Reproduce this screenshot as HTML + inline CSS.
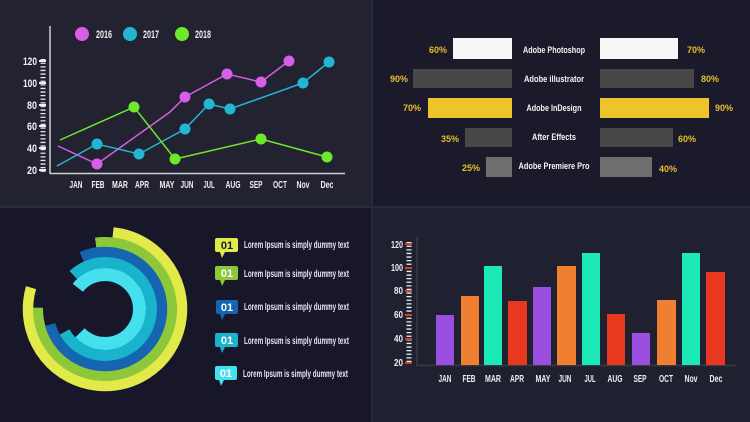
<!DOCTYPE html>
<html><head><meta charset="utf-8"><style>
html,body{margin:0;padding:0;background:#262638;}
svg{display:block;font-family:"Liberation Sans",sans-serif;}
</style></head><body>
<svg width="750" height="422" viewBox="0 0 750 422" xmlns="http://www.w3.org/2000/svg">
<rect width="750" height="422" fill="#2a2a3e"/>
<rect x="0" y="0" width="371" height="206" fill="#222231"/>
<rect x="373" y="0" width="377" height="206" fill="#1a1a2b"/>
<rect x="0" y="208" width="371" height="214" fill="#171729"/>
<rect x="373" y="208" width="377" height="214" fill="#1f2030"/>

<!-- TOP LEFT line chart -->
<g>
<line x1="50" y1="26" x2="50" y2="174" stroke="#cfcfd6" stroke-width="1.5"/>
<line x1="50" y1="173.5" x2="345" y2="173.5" stroke="#cfcfd6" stroke-width="1.5"/>
<line x1="43" y1="59" x2="43" y2="172" stroke="#e8e8ee" stroke-width="5" stroke-dasharray="1.3 2.3"/>
<g stroke="#f0f0f0" stroke-width="2">
<line x1="39" y1="61" x2="46" y2="61"/><line x1="39" y1="83" x2="46" y2="83"/><line x1="39" y1="105" x2="46" y2="105"/><line x1="39" y1="126" x2="46" y2="126"/><line x1="39" y1="148" x2="46" y2="148"/><line x1="39" y1="170" x2="46" y2="170"/>
</g>
<g fill="#f0f0f0" font-size="11" font-weight="bold" text-anchor="end">
<text x="37" y="65" textLength="14" lengthAdjust="spacingAndGlyphs">120</text><text x="37" y="87" textLength="14" lengthAdjust="spacingAndGlyphs">100</text><text x="37" y="109" textLength="10" lengthAdjust="spacingAndGlyphs">80</text><text x="37" y="130" textLength="10" lengthAdjust="spacingAndGlyphs">60</text><text x="37" y="152" textLength="10" lengthAdjust="spacingAndGlyphs">40</text><text x="37" y="174" textLength="10" lengthAdjust="spacingAndGlyphs">20</text>
</g>
<g fill="#f0f0f0" font-size="10.5" font-weight="bold" text-anchor="middle">
<text x="76" y="188" textLength="13" lengthAdjust="spacingAndGlyphs">JAN</text><text x="98" y="188" textLength="13" lengthAdjust="spacingAndGlyphs">FEB</text><text x="120" y="188" textLength="16" lengthAdjust="spacingAndGlyphs">MAR</text><text x="142" y="188" textLength="14" lengthAdjust="spacingAndGlyphs">APR</text><text x="167" y="188" textLength="15" lengthAdjust="spacingAndGlyphs">MAY</text><text x="187" y="188" textLength="13" lengthAdjust="spacingAndGlyphs">JUN</text><text x="209" y="188" textLength="11" lengthAdjust="spacingAndGlyphs">JUL</text><text x="233" y="188" textLength="15" lengthAdjust="spacingAndGlyphs">AUG</text><text x="256" y="188" textLength="13" lengthAdjust="spacingAndGlyphs">SEP</text><text x="280" y="188" textLength="14" lengthAdjust="spacingAndGlyphs">OCT</text><text x="303" y="188" textLength="13" lengthAdjust="spacingAndGlyphs">Nov</text><text x="327" y="188" textLength="13" lengthAdjust="spacingAndGlyphs">Dec</text>
</g>
<polyline points="58,146 97,164 170,112 185,97 227,74 261,82 289,61" fill="none" stroke="#d65ee8" stroke-width="1.5"/>
<polyline points="57,166 97,144 139,154 185,129 209,104 230,109 303,83 329,62" fill="none" stroke="#23b6d2" stroke-width="1.5"/>
<polyline points="60,140 134,107 175,159 261,139 327,157" fill="none" stroke="#6ee82a" stroke-width="1.5"/>
<g fill="#d65ee8"><circle cx="97" cy="164" r="5.5"/><circle cx="185" cy="97" r="5.5"/><circle cx="227" cy="74" r="5.5"/><circle cx="261" cy="82" r="5.5"/><circle cx="289" cy="61" r="5.5"/></g>
<g fill="#23b6d2"><circle cx="97" cy="144" r="5.5"/><circle cx="139" cy="154" r="5.5"/><circle cx="185" cy="129" r="5.5"/><circle cx="209" cy="104" r="5.5"/><circle cx="230" cy="109" r="5.5"/><circle cx="303" cy="83" r="5.5"/><circle cx="329" cy="62" r="5.5"/></g>
<g fill="#6ee82a"><circle cx="134" cy="107" r="5.5"/><circle cx="175" cy="159" r="5.5"/><circle cx="261" cy="139" r="5.5"/><circle cx="327" cy="157" r="5.5"/></g>
<circle cx="82" cy="34" r="7" fill="#d65ee8"/><circle cx="130" cy="34" r="7" fill="#23b6d2"/><circle cx="182" cy="34" r="7" fill="#6ee82a"/>
<g fill="#f0f0f0" font-size="11" font-weight="bold"><text x="96" y="38" textLength="16" lengthAdjust="spacingAndGlyphs">2016</text><text x="143" y="38" textLength="16" lengthAdjust="spacingAndGlyphs">2017</text><text x="195" y="38" textLength="16" lengthAdjust="spacingAndGlyphs">2018</text></g>
</g>

<!-- TOP RIGHT skills -->
<g>
<rect x="453" y="38" width="59" height="21" fill="#f7f7f7"/>
<rect x="413" y="69" width="99" height="19" fill="#474747"/>
<rect x="428" y="98" width="84" height="20" fill="#edc42a"/>
<rect x="465" y="128" width="47" height="19" fill="#474747"/>
<rect x="486" y="157" width="26" height="20" fill="#6e6e6e"/>
<rect x="600" y="38" width="78" height="21" fill="#f7f7f7"/>
<rect x="600" y="69" width="94" height="19" fill="#474747"/>
<rect x="600" y="98" width="109" height="20" fill="#edc42a"/>
<rect x="600" y="128" width="73" height="19" fill="#474747"/>
<rect x="600" y="157" width="52" height="20" fill="#6e6e6e"/>
<g fill="#f4f4f4" font-size="9.5" font-weight="bold" text-anchor="middle">
<text x="554" y="53" textLength="62" lengthAdjust="spacingAndGlyphs">Adobe Photoshop</text><text x="554" y="82" textLength="60" lengthAdjust="spacingAndGlyphs">Adobe illustrator</text><text x="554" y="111" textLength="55" lengthAdjust="spacingAndGlyphs">Adobe InDesign</text><text x="554" y="140" textLength="44" lengthAdjust="spacingAndGlyphs">After Effects</text><text x="554" y="169" textLength="71" lengthAdjust="spacingAndGlyphs">Adobe Premiere Pro</text>
</g>
<g fill="#e8bf2c" font-size="9" font-weight="bold">
<text x="429" y="53">60%</text><text x="390" y="82">90%</text><text x="403" y="111">70%</text><text x="441" y="142">35%</text><text x="462" y="171">25%</text>
<text x="687" y="53">70%</text><text x="701" y="82">80%</text><text x="715" y="111">90%</text><text x="678" y="142">60%</text><text x="659" y="172">40%</text>
</g>
</g>

<!-- BOTTOM LEFT rings -->
<g fill="none">
<circle cx="105" cy="309" r="77" stroke="#e2ea4a" stroke-width="10.5" stroke-dasharray="376.3 1000" transform="rotate(-84 105 309)"/>
<circle cx="105" cy="309" r="67" stroke="#8cc83a" stroke-width="10" stroke-dasharray="326.3 1000" transform="rotate(262 105 309)"/>
<circle cx="105" cy="309" r="57" stroke="#1565b0" stroke-width="10.5" stroke-dasharray="276.5 1000" transform="rotate(246 105 309)"/>
<circle cx="105" cy="309" r="46.5" stroke="#1ab3cc" stroke-width="11" stroke-dasharray="229.7 1000" transform="rotate(227 105 309)"/>
<circle cx="105" cy="309" r="34.5" stroke="#44e0ee" stroke-width="13" stroke-dasharray="167.4 1000" transform="rotate(218 105 309)"/>
</g>
<g>
<g><rect x="215" y="238" width="23" height="14" rx="2" fill="#e2ea4a"/><polygon points="220,252 225,252 222,258" fill="#e2ea4a"/><text x="227" y="249" text-anchor="middle" fill="#1a1a2b" font-size="11" font-weight="bold">01</text></g>
<g><rect x="215" y="266" width="23" height="14" rx="2" fill="#8cc83a"/><polygon points="220,280 225,280 222,286" fill="#8cc83a"/><text x="227" y="277" text-anchor="middle" fill="#fff" font-size="11" font-weight="bold">01</text></g>
<g><rect x="216" y="300" width="22" height="14" rx="2" fill="#1565b0"/><polygon points="220,314 225,314 222,320" fill="#1565b0"/><text x="227" y="311" text-anchor="middle" fill="#fff" font-size="11" font-weight="bold">01</text></g>
<g><rect x="215" y="333" width="23" height="14" rx="2" fill="#1ab3cc"/><polygon points="220,347 225,347 222,353" fill="#1ab3cc"/><text x="227" y="344" text-anchor="middle" fill="#fff" font-size="11" font-weight="bold">01</text></g>
<g><rect x="215" y="366" width="22" height="14" rx="2" fill="#44e0ee"/><polygon points="219,380 224,380 221,386" fill="#44e0ee"/><text x="226" y="377" text-anchor="middle" fill="#fff" font-size="11" font-weight="bold">01</text></g>
<g fill="#e6e6ee" font-size="10" font-weight="bold">
<text x="244" y="248" textLength="105" lengthAdjust="spacingAndGlyphs">Lorem Ipsum is simply dummy text</text>
<text x="244" y="277" textLength="105" lengthAdjust="spacingAndGlyphs">Lorem Ipsum is simply dummy text</text>
<text x="244" y="310" textLength="105" lengthAdjust="spacingAndGlyphs">Lorem Ipsum is simply dummy text</text>
<text x="244" y="344" textLength="105" lengthAdjust="spacingAndGlyphs">Lorem Ipsum is simply dummy text</text>
<text x="243" y="377" textLength="105" lengthAdjust="spacingAndGlyphs">Lorem Ipsum is simply dummy text</text>
</g>
</g>

<!-- BOTTOM RIGHT bars -->
<g>
<line x1="417" y1="237" x2="417" y2="366" stroke="#3a3a44" stroke-width="1.5"/>
<line x1="416" y1="365.5" x2="736" y2="365.5" stroke="#3a3a44" stroke-width="1.5"/>
<line x1="409" y1="242" x2="409" y2="364" stroke="#eeeeee" stroke-width="5" stroke-dasharray="1.3 2.3"/>
<g stroke="#e03a20" stroke-width="2">
<line x1="405" y1="244" x2="412" y2="244"/><line x1="405" y1="268" x2="412" y2="268"/><line x1="405" y1="291" x2="412" y2="291"/><line x1="405" y1="315" x2="412" y2="315"/><line x1="405" y1="339" x2="412" y2="339"/><line x1="405" y1="363" x2="412" y2="363"/>
</g>
<g fill="#eeeeee" font-size="10" font-weight="bold" text-anchor="end">
<text x="403" y="248" textLength="12" lengthAdjust="spacingAndGlyphs">120</text><text x="403" y="271" textLength="12" lengthAdjust="spacingAndGlyphs">100</text><text x="403" y="294" textLength="9" lengthAdjust="spacingAndGlyphs">80</text><text x="403" y="318" textLength="9" lengthAdjust="spacingAndGlyphs">60</text><text x="403" y="342" textLength="9" lengthAdjust="spacingAndGlyphs">40</text><text x="403" y="366" textLength="9" lengthAdjust="spacingAndGlyphs">20</text>
</g>
<rect x="436" y="315" width="18" height="50" fill="#9b4fe0"/>
<rect x="461" y="296" width="18" height="69" fill="#f08030"/>
<rect x="484" y="266" width="18" height="99" fill="#1de8b8"/>
<rect x="508" y="301" width="19" height="64" fill="#e83820"/>
<rect x="533" y="287" width="18" height="78" fill="#9b4fe0"/>
<rect x="557" y="266" width="19" height="99" fill="#f08030"/>
<rect x="582" y="253" width="18" height="112" fill="#1de8b8"/>
<rect x="607" y="314" width="18" height="51" fill="#e83820"/>
<rect x="632" y="333" width="18" height="32" fill="#9b4fe0"/>
<rect x="657" y="300" width="19" height="65" fill="#f08030"/>
<rect x="682" y="253" width="18" height="112" fill="#1de8b8"/>
<rect x="706" y="272" width="19" height="93" fill="#e83820"/>
<g fill="#eeeeee" font-size="10.5" font-weight="bold" text-anchor="middle">
<text x="445" y="382" textLength="13" lengthAdjust="spacingAndGlyphs">JAN</text><text x="469" y="382" textLength="13" lengthAdjust="spacingAndGlyphs">FEB</text><text x="493" y="382" textLength="16" lengthAdjust="spacingAndGlyphs">MAR</text><text x="517" y="382" textLength="14" lengthAdjust="spacingAndGlyphs">APR</text><text x="543" y="382" textLength="15" lengthAdjust="spacingAndGlyphs">MAY</text><text x="565" y="382" textLength="13" lengthAdjust="spacingAndGlyphs">JUN</text><text x="590" y="382" textLength="11" lengthAdjust="spacingAndGlyphs">JUL</text><text x="615" y="382" textLength="15" lengthAdjust="spacingAndGlyphs">AUG</text><text x="640" y="382" textLength="13" lengthAdjust="spacingAndGlyphs">SEP</text><text x="666" y="382" textLength="14" lengthAdjust="spacingAndGlyphs">OCT</text><text x="691" y="382" textLength="13" lengthAdjust="spacingAndGlyphs">Nov</text><text x="716" y="382" textLength="13" lengthAdjust="spacingAndGlyphs">Dec</text>
</g>
</g>
</svg>
</body></html>
